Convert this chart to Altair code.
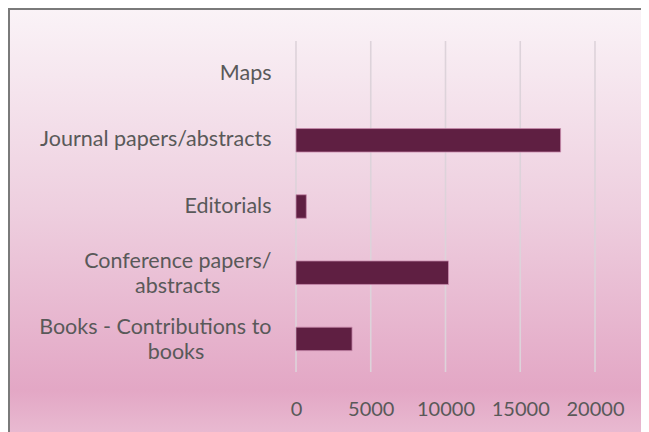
import altair as alt
import pandas as pd

categories = ["Maps", "Journal papers/abstracts", "Editorials",
              "Conference papers/|abstracts", "Books - Contributions to|books"]
values = [0, 17700, 690, 10200, 3750]
x_ticks = [0, 5000, 10000, 15000, 20000]

df = pd.DataFrame({"cat": categories, "val": values})
ticks_df = pd.DataFrame({"t": x_ticks})

FONT = "Lato"
TXT = "#595959"
FS_Y = 21.5
FS_X = 20

W, H = 299, 331
PL, PT = 288, 33
TOTAL_W, TOTAL_H = 633, 424

# wrapped second lines are centred under the first line (as in the original)
EM, EN, THIN, WJ = "\u2003", "\u2002", "\u2009", "\u2060"
line_pad = {"abstracts": EM * 2 + EN + THIN * 3 + WJ, "books": EM * 3 + EN + THIN * 3 + WJ}
label_expr = "split(datum.label, '|')"
for word, pad in line_pad.items():
    label_expr = (f"indexof(datum.label, '|{word}') >= 0 ? "
                  f"split(replace(datum.label, '|{word}', '|{word}{pad}'), '|') : ({label_expr})")

xscale = alt.Scale(domain=[0, 20000], nice=False)
yscale = alt.Scale(domain=categories, paddingInner=0.645)
xaxis = alt.Axis(values=x_ticks, title=None, domain=False, ticks=False,
                 grid=False, zindex=1, labelOverlap=False, labelFlush=False,
                 labelFont=FONT, labelFontSize=FS_X, labelColor=TXT,
                 labelPadding=27, format="d")

bg = alt.Chart(alt.Data(values=[{"a": 1}])).mark_rect(
    fill=alt.LinearGradient(
        gradient="linear", x1=0, x2=0, y1=0, y2=1,
        stops=[
            alt.GradientStop(offset=0, color="#faf3f7"),
            alt.GradientStop(offset=0.45, color="#eecfdf"),
            alt.GradientStop(offset=0.86, color="#e3a7c5"),
            alt.GradientStop(offset=1, color="#ebc2d6"),
        ],
    ),
    stroke="#7a7a7a", strokeWidth=2,
).encode(
    x=alt.value(-PL + 1), x2=alt.value(TOTAL_W - PL + 20),
    y=alt.value(-PT + 1), y2=alt.value(TOTAL_H - PT + 20),
)

grid = alt.Chart(ticks_df).mark_rule(color="#ddd3da", strokeWidth=1.6).encode(
    x=alt.X("t:Q", scale=xscale, axis=xaxis),
    y=alt.value(0), y2=alt.value(H),
)

bars = alt.Chart(df).transform_filter("datum.val > 0").mark_bar(
    color="#5f1f42", stroke="#c98bad", strokeWidth=0.8
).encode(
    x=alt.X("val:Q", scale=xscale, axis=xaxis),
    y=alt.Y("cat:N", scale=yscale, sort=None,
            axis=alt.Axis(title=None, domain=False, ticks=False, grid=False, zindex=1,
                          labelFont=FONT, labelFontSize=FS_Y, labelColor=TXT,
                          labelPadding=25, labelLimit=400, labelLineHeight=25,
                          labelOffset={"expr": "indexof(datum.label, '|') >= 0 ? -11 : 0"},
                          labelExpr=label_expr)),
)

chart = alt.layer(bg, grid, bars).properties(
    width=W, height=H,
    autosize=alt.AutoSizeParams(type="none"),
    padding={"left": PL, "top": PT, "right": TOTAL_W - PL - W, "bottom": TOTAL_H - PT - H},
    background="white",
).configure_view(stroke=None)

chart.save("out.html", embed_options={"renderer": "svg", "actions": False})
